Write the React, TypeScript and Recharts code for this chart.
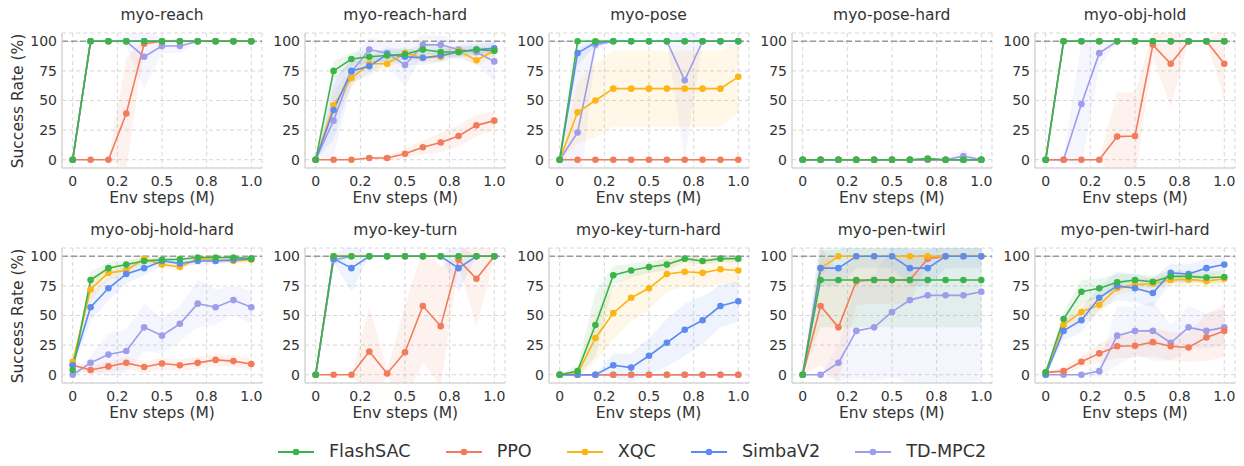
import React from "react";
import { Area, CartesianGrid, ComposedChart, Line, ReferenceLine, XAxis, YAxis } from "recharts";

const STEPS = [0, 0.1, 0.2, 0.3, 0.4, 0.5, 0.6, 0.7, 0.8, 0.9, 1.0];
const METHODS = ["FlashSAC", "PPO", "XQC", "SimbaV2", "TD-MPC2"];
const COLORS = ["#3bb44a", "#f27b5c", "#fbb514", "#5d8bf0", "#9d9deb"];
const DRAW_ORDER = [4, 1, 2, 3, 0];
const X_TICKS = [0, 0.25, 0.5, 0.75, 1];
const X_TICK_LABELS = ["0", "0.2", "0.5", "0.8", "1.0"];
const Y_TICKS = [0, 25, 50, 75, 100];
const TASKS = [
  "myo-reach",
  "myo-reach-hard",
  "myo-pose",
  "myo-pose-hard",
  "myo-obj-hold",
  "myo-obj-hold-hard",
  "myo-key-turn",
  "myo-key-turn-hard",
  "myo-pen-twirl",
  "myo-pen-twirl-hard",
];

// rows: FlashSAC, PPO, XQC, SimbaV2, TD-MPC2
const reachMean = [
  [0, 100, 100, 100, 100, 100, 100, 100, 100, 100, 100],
  [0, 0, 0, 39, 98, 100, 100, 100, 100, 100, 100],
  [0, 100, 100, 100, 100, 100, 100, 100, 100, 100, 100],
  [0, 100, 100, 100, 100, 100, 100, 100, 100, 100, 100],
  [0, 100, 100, 100, 87, 96, 96, 100, 100, 100, 100],
];
const reachSpread = [
  [0, 0, 0, 0, 0, 0, 0, 0, 0, 0, 0],
  [0, 0, 0, 47, 3, 0, 0, 0, 0, 0, 0],
  [0, 0, 0, 0, 0, 0, 0, 0, 0, 0, 0],
  [0, 0, 0, 0, 0, 0, 0, 0, 0, 0, 0],
  [0, 0, 0, 5, 27, 6, 6, 0, 0, 0, 0],
];

const reachHardMean = [
  [0, 75, 85, 87, 88, 89, 93, 91, 91, 93, 92],
  [0, 0, 0, 1.5, 1.5, 5, 10.5, 14.5, 20, 29, 33],
  [0, 46, 69, 81, 81, 90, 86, 87, 92, 84, 92],
  [0, 42, 75, 79, 89, 87, 86, 88, 91, 93, 94],
  [0, 33, 74, 93, 90, 80, 97, 97, 93, 91, 83],
];
const reachHardSpread = [
  [0, 8, 6, 5, 5, 4, 4, 4, 4, 3, 3],
  [0, 0, 0, 1, 2, 4, 6, 8, 9, 9, 8],
  [0, 12, 8, 6, 5, 4, 4, 4, 4, 5, 5],
  [0, 25, 10, 8, 6, 7, 6, 6, 5, 5, 5],
  [0, 30, 12, 10, 10, 18, 8, 8, 8, 10, 17],
];

const poseMean = [
  [0, 100, 100, 100, 100, 100, 100, 100, 100, 100, 100],
  [0, 0, 0, 0, 0, 0, 0, 0, 0, 0, 0],
  [0, 40, 50, 60, 60, 60, 60, 60, 60, 60, 70],
  [0, 90, 99, 100, 100, 100, 100, 100, 100, 100, 100],
  [0, 23, 97, 100, 100, 100, 100, 67, 100, 100, 100],
];
const poseSpread = [
  [0, 0, 0, 0, 0, 0, 0, 0, 0, 0, 0],
  [0, 0, 0, 0, 0, 0, 0, 0, 0, 0, 0],
  [0, 26, 31, 32, 32, 32, 32, 32, 32, 32, 30],
  [0, 10, 3, 0, 0, 0, 0, 0, 0, 0, 0],
  [0, 70, 5, 0, 0, 0, 0, 67, 0, 0, 0],
];

const poseHardMean = [
  [0, 0, 0, 0, 0, 0, 0, 1, 0, 0, 0],
  [0, 0, 0, 0, 0, 0, 0, 0, 0, 0, 0],
  [0, 0, 0, 0, 0, 0, 0, 0, 0, 0, 0],
  [0, 0, 0, 0, 0, 0, 0, 0.3, 0, 0, 0],
  [0, 0, 0, 0, 0, 0, 0, 0, 0, 3, 0],
];
const poseHardSpread = [
  [0, 0, 0, 0, 0, 0, 0, 1, 0, 0, 0],
  [0, 0, 0, 0, 0, 0, 0, 0, 0, 0, 0],
  [0, 0, 0, 0, 0, 0, 0, 0, 0, 0, 0],
  [0, 0, 0, 0, 0, 0, 0, 0.5, 0, 0, 0],
  [0, 0, 0, 0, 0, 0, 0, 0, 0, 6, 0],
];

const objHoldMean = [
  [0, 100, 100, 100, 100, 100, 100, 100, 100, 100, 100],
  [0, 0, 0, 0, 19.5, 20, 97, 81, 100, 100, 81],
  [0, 100, 100, 100, 100, 100, 100, 100, 100, 100, 100],
  [0, 100, 100, 100, 100, 100, 100, 100, 100, 100, 100],
  [0, 0, 47, 90, 100, 100, 100, 100, 100, 100, 100],
];
const objHoldSpread = [
  [0, 0, 0, 0, 0, 0, 0, 0, 0, 0, 0],
  [0, 0, 0, 0, 37, 37, 10, 37, 0, 0, 30],
  [0, 0, 0, 0, 0, 0, 0, 0, 0, 0, 0],
  [0, 0, 0, 0, 0, 0, 0, 0, 0, 0, 0],
  [0, 2, 52, 12, 0, 0, 0, 0, 0, 0, 0],
];

const objHoldHardMean = [
  [4, 80, 90, 93, 96, 97, 97.5, 99, 99, 99, 98],
  [8, 4, 7, 10, 6.5, 9.5, 8, 10, 12.5, 11.5, 9],
  [11, 72, 86, 88, 98, 93, 91, 98, 97, 96, 97],
  [8, 57, 73, 85, 90, 96, 94, 96, 96, 97, 98],
  [0, 10, 17, 20, 40, 33, 43, 60, 57, 63, 57],
];
const objHoldHardSpread = [
  [2, 7, 5, 4, 3, 2, 2, 1, 1, 1, 1],
  [2, 4, 4, 5, 5, 5, 5, 5, 5, 5, 5],
  [3, 10, 6, 5, 3, 3, 3, 2, 2, 2, 2],
  [3, 12, 10, 8, 6, 4, 3, 3, 3, 2, 2],
  [0, 6, 18, 18, 20, 15, 15, 20, 15, 12, 14],
];

const keyTurnMean = [
  [0, 100, 100, 100, 100, 100, 100, 100, 100, 100, 100],
  [0, 0, 0, 19.5, 1, 19, 58, 41, 97, 81, 100],
  [0, 100, 100, 100, 100, 100, 100, 100, 100, 100, 100],
  [0, 98, 90, 100, 100, 100, 100, 100, 90, 100, 100],
  [0, 97, 100, 100, 100, 100, 100, 100, 100, 100, 100],
];
const keyTurnSpread = [
  [0, 0, 0, 0, 0, 0, 0, 0, 0, 0, 0],
  [0, 0, 0, 38, 3, 40, 48, 50, 5, 40, 2],
  [0, 0, 0, 0, 0, 0, 0, 0, 0, 0, 0],
  [0, 3, 20, 0, 0, 0, 0, 0, 20, 0, 0],
  [0, 5, 0, 0, 0, 0, 0, 0, 0, 0, 0],
];

const keyTurnHardMean = [
  [0, 3, 42, 84, 88, 91, 93, 98, 96, 98, 98],
  [0, 0, 0, 0, 0, 0, 0, 0, 0, 0, 0],
  [0, 1, 31, 52, 65, 73, 85, 87, 86, 89, 88],
  [0, 0, 0, 8, 6, 16, 27, 38, 46, 58, 62],
  [0, 0, 0, 0, 0, 0, 0, 0, 0, 0, 0],
];
const keyTurnHardSpread = [
  [0, 5, 27, 8, 6, 5, 5, 3, 3, 3, 3],
  [0, 0, 0, 0, 0, 0, 0, 0, 0, 0, 0],
  [0, 3, 20, 22, 20, 18, 15, 13, 13, 12, 12],
  [0, 0, 0, 10, 12, 15, 20, 22, 20, 18, 17],
  [0, 0, 0, 0, 0, 0, 0, 0, 0, 0, 0],
];

const penTwirlMean = [
  [0, 80, 80, 80, 80, 80, 80, 80, 80, 80, 80],
  [0, 58, 40, 79, 80, 80, 80, 98, 100, 100, 100],
  [0, 90, 100, 100, 100, 100, 100, 100, 100, 100, 100],
  [0, 90, 90, 100, 100, 100, 90, 90, 100, 100, 100],
  [0, 0, 10, 37, 40, 53, 63, 67, 67, 67, 70],
];
const penTwirlSpread = [
  [0, 40, 40, 40, 40, 40, 40, 40, 40, 40, 40],
  [0, 50, 47, 20, 20, 20, 20, 3, 0, 0, 0],
  [0, 8, 0, 0, 0, 0, 0, 0, 0, 0, 0],
  [0, 15, 15, 10, 10, 10, 15, 15, 10, 10, 10],
  [0, 0, 15, 40, 45, 55, 70, 73, 73, 73, 75],
];

const penTwirlHardMean = [
  [2, 47, 70, 73, 78, 80, 78.5, 83, 83, 82, 82.5],
  [2, 3, 11, 18, 24, 24.5, 27.5, 24, 23, 31.5, 37],
  [1, 42, 53, 59, 73, 76, 77, 80, 80.5, 79, 81],
  [0, 37, 46, 65, 75, 73, 69, 86, 85, 90, 93],
  [0, 0, 0, 3, 33, 37, 37, 27, 40, 37, 40],
];
const penTwirlHardSpread = [
  [1, 6, 10, 8, 7, 5, 5, 5, 5, 5, 5],
  [1, 3, 5, 8, 10, 10, 12, 12, 12, 20, 22],
  [1, 5, 8, 8, 6, 5, 5, 5, 5, 5, 5],
  [0, 8, 10, 10, 12, 12, 12, 8, 8, 8, 6],
  [0, 0, 0, 5, 25, 20, 25, 15, 18, 15, 15],
];

const MEANS = [
  reachMean, reachHardMean, poseMean, poseHardMean, objHoldMean,
  objHoldHardMean, keyTurnMean, keyTurnHardMean, penTwirlMean, penTwirlHardMean,
];
const SPREADS = [
  reachSpread, reachHardSpread, poseSpread, poseHardSpread, objHoldSpread,
  objHoldHardSpread, keyTurnSpread, keyTurnHardSpread, penTwirlSpread, penTwirlHardSpread,
];

const FONT = "DejaVu Sans, sans-serif";
const TEXT = "#333";
const AXIS_W = 40;
const PLOT_W = 200;
const PLOT_H = 135;
const ROW_TOPS = [33.4, 248.4];

function Panel({ idx }: { idx: number }) {
  const row = Math.floor(idx / 5);
  const col = idx % 5;
  const left = 62 + 243.25 * col;
  const top = ROW_TOPS[row];
  const mean = MEANS[idx];
  const spread = SPREADS[idx];

  const data = STEPS.map((x, i) => {
    const d: Record<string, any> = { x };
    mean.forEach((m, s) => {
      d["m" + s] = m[i];
      d["b" + s] = [m[i] - spread[s][i], m[i] + spread[s][i]];
    });
    return d;
  });

  const tickStyle = { fill: TEXT, fontSize: 14, fontFamily: FONT };

  return (
    <>
      <div
        style={{
          position: "absolute",
          left: left + PLOT_W / 2,
          top: row === 0 ? 15.5 : 230.5,
          transform: "translate(-50%, -50%)",
          fontSize: 15.5,
          color: TEXT,
          whiteSpace: "nowrap",
          lineHeight: 1,
        }}
      >
        {TASKS[idx]}
      </div>
      <div style={{ position: "absolute", left: left - AXIS_W, top: top - 2 }}>
        <ComposedChart
          width={AXIS_W + PLOT_W + 2}
          height={2 + PLOT_H + 26}
          data={data}
          margin={{ top: 2, right: 2, bottom: 0, left: 0 }}
        >
          <CartesianGrid stroke="#d2d2d2" strokeDasharray="4 3" strokeWidth={0.9} />
          <XAxis
            dataKey="x"
            type="number"
            domain={[-0.06, 1.06]}
            ticks={X_TICKS}
            tickFormatter={(v: number) => X_TICK_LABELS[X_TICKS.indexOf(v)]}
            allowDataOverflow
            height={26}
            tickLine={false}
            tickSize={0}
            tickMargin={8}
            axisLine={{ stroke: "#d8d8d8", strokeWidth: 1.5 }}
            tick={tickStyle}
          />
          <YAxis
            type="number"
            domain={[-7, 107]}
            ticks={Y_TICKS}
            allowDataOverflow
            width={AXIS_W}
            tickLine={false}
            tickSize={0}
            tickMargin={5}
            axisLine={{ stroke: "#d8d8d8", strokeWidth: 1.5 }}
            tick={tickStyle}
          />
          <ReferenceLine y={100} stroke="#9a9a9a" strokeDasharray="6 3" strokeWidth={1.4} />
          {DRAW_ORDER.map((s) => (
            <Area
              key={"b" + s}
              dataKey={"b" + s}
              type="linear"
              stroke="none"
              fill={COLORS[s]}
              fillOpacity={0.1}
              dot={false}
              activeDot={false}
              isAnimationActive={false}
            />
          ))}
          {DRAW_ORDER.map((s) => (
            <Line
              key={"m" + s}
              dataKey={"m" + s}
              type="linear"
              stroke={COLORS[s]}
              strokeWidth={1.6}
              dot={{ r: 3.3, fill: COLORS[s], stroke: COLORS[s], strokeWidth: 0 }}
              activeDot={false}
              isAnimationActive={false}
            />
          ))}
        </ComposedChart>
      </div>
      <div
        style={{
          position: "absolute",
          left: left + PLOT_W / 2,
          top: top + PLOT_H + 30.5,
          transform: "translate(-50%, -50%)",
          fontSize: 15.5,
          color: TEXT,
          whiteSpace: "nowrap",
          lineHeight: 1,
        }}
      >
        Env steps (M)
      </div>
      {col === 0 ? (
        <div
          style={{
            position: "absolute",
            left: 19,
            top: top + PLOT_H / 2,
            transform: "translate(-50%, -50%) rotate(-90deg)",
            fontSize: 15.5,
            color: TEXT,
            whiteSpace: "nowrap",
            lineHeight: 1,
          }}
        >
          Success Rate (%)
        </div>
      ) : null}
    </>
  );
}

export default function App() {
  return (
    <div
      style={{
        position: "absolute",
        left: 0,
        top: 0,
        width: 1244,
        height: 466,
        background: "#fff",
        fontFamily: FONT,
        overflow: "hidden",
      }}
    >
      {TASKS.map((_, i) => (
        <Panel key={i} idx={i} />
      ))}
      <div
        style={{
          position: "absolute",
          left: 278,
          top: 441,
          height: 22,
          display: "flex",
          alignItems: "center",
          gap: 35,
          fontSize: 17.6,
          color: TEXT,
          lineHeight: 1,
        }}
      >
        {METHODS.map((m, i) => (
          <div key={m} style={{ display: "flex", alignItems: "center", gap: 15 }}>
            <svg width={36} height={12}>
              <line x1={0} y1={6} x2={36} y2={6} stroke={COLORS[i]} strokeWidth={2} />
              <circle cx={18} cy={6} r={3.3} fill={COLORS[i]} />
            </svg>
            <span>{m}</span>
          </div>
        ))}
      </div>
    </div>
  );
}
